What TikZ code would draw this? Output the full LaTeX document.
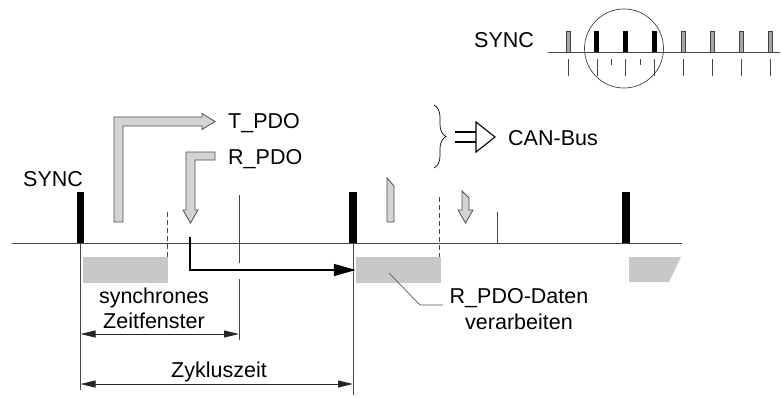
\documentclass[tikz,border=0pt]{standalone}
\usepackage{fontspec}
\setmainfont{Liberation Sans}
\usetikzlibrary{arrows.meta, decorations.pathreplacing}
\definecolor{boxgray}{RGB}{200,200,200}
\definecolor{arrgray}{RGB}{212,212,212}
\definecolor{linegray}{RGB}{70,70,70}

\tikzset{
  lbl/.style={font=\fontsize{21.5}{25}\selectfont, inner sep=0pt},
  procbox/.style={fill=boxgray, minimum width=85pt, minimum height=26pt, inner sep=0pt},
  hollow/.style={fill=arrgray, draw=black!70, line width=0.8pt, line join=miter},
  thinline/.style={draw=linegray, line width=0.8pt},
  dimline/.style={draw=black!85, line width=0.9pt, {Triangle[length=15pt,width=7pt]}-{Triangle[length=15pt,width=7pt]}},
}

\begin{document}
\begin{tikzpicture}[x=1pt, y=-1pt]
\useasboundingbox (0,0) rectangle (781,397);

% === Time axis with SYNC pulses ===
\draw[thinline] (12,243) -- (682,243);
\foreach \x in {80.5,353,626}
  \fill ({\x-3.8},192) rectangle ({\x+3.8},243);
\node[lbl, anchor=base west] (sync) at (23,186) {SYNC};

% markers on the axis
\draw[thinline, dash pattern=on 5pt off 3pt] (167.5,212) -- (167.5,257);
\draw[thinline, dash pattern=on 5pt off 3pt] (439,197) -- (439,257);
\draw[thinline] (239,195) -- (239,263);
\draw[thinline] (239,279) -- (239,340);
\draw[thinline] (497,212) -- (497,243);
\draw[thinline] (80.5,243) -- (80.5,390);
\draw[thinline] (353,243) -- (353,395);

% === Processing boxes ===
\node[procbox] (proc1) at (125.5,270) {};
\node[procbox] (proc2) at (398.5,270) {};
\fill[boxgray] (629,257) -- (681,257) -- (669,282) -- (629,282) -- cycle;

% === PDO arrows ===
\draw[hollow] (114,222) -- (114,117) -- (202,117) -- (202,113.5) -- (215,121.5)
  -- (202,129.5) -- (202,126) -- (123,126) -- (123,222) -- cycle;
\draw[hollow] (215,152) -- (186,152) -- (186,210) -- (183,210) -- (190.5,223)
  -- (198,210) -- (195,210) -- (195,160) -- (215,160) -- cycle;
\node[lbl, anchor=base west] (tpdo) at (228,128.5) {T\_PDO};
\node[lbl, anchor=base west] (rpdo) at (228,164) {R\_PDO};

% next cycle
\draw[hollow] (387,222) -- (387,178) -- (394,186) -- (394,222) -- cycle;
\draw[hollow] (462,191) -- (469,198) -- (469,210) -- (473,210) -- (465.5,223)
  -- (458,210) -- (462,210) -- cycle;

% R_PDO data handed over to next cycle
\coordinate (rstart) at (190,237);
\draw[black, line width=1.4pt, -{Triangle[length=22pt,width=12pt]}] (rstart) |- (proc2.west);

% === CAN bus legend ===
\draw[decorate, decoration={brace, amplitude=12pt}, line width=0.7pt] (434,105) -- (434,168);
\draw[line width=1.1pt] (455,132) -- (476,132);
\draw[line width=1.1pt] (455,142) -- (476,142);
\draw[line width=1.1pt, fill=white, line join=miter] (476,122) -- (495,137) -- (476,152) -- cycle;
\node[lbl, anchor=base west] (canbus) at (508,145) {CAN-Bus};

% === Dimensions ===
\coordinate (winL) at (80.5,334);
\coordinate (winR) at (239,334);
\coordinate (cycL) at (80.5,384);
\coordinate (cycR) at (353,384);
\draw[dimline] (winL) -- (winR);
\draw[dimline] (cycL) -- (cycR);
\node[lbl, anchor=base] (win1) at (154,303) {synchrones};
\node[lbl, anchor=base] (win2) at (154,328) {Zeitfenster};
\node[lbl, anchor=base] (cyc) at (219,377) {Zykluszeit};

% label for processing
\coordinate (lead) at (389,273);
\draw[draw=black!65, line width=0.7pt] (lead) -- (420,305) -- (443,305);
\node[lbl, anchor=base] (rdat1) at (519,303) {R\_PDO-Daten};
\node[lbl, anchor=base] (rdat2) at (519,329) {verarbeiten};

% === Inset: SYNC sequence ===
\node[lbl, anchor=base west] (syncB) at (474,47) {SYNC};
\draw[thinline] (548,52) -- (780,52);
\foreach \i in {0,...,7} {
  \pgfmathsetmacro\bx{568+28.9*\i}
  \draw[draw=linegray, line width=0.7pt] (\bx,59) -- (\bx,76);
}
\foreach \i in {0,4,5,6,7} {
  \pgfmathsetmacro\bx{568+28.9*\i}
  \filldraw[fill=black!35, draw=black!75, line width=0.5pt] ({\bx-2},31) rectangle ({\bx+2},52);
}
\foreach \i in {1,2,3} {
  \pgfmathsetmacro\bx{568+28.9*\i}
  \fill ({\bx-2.5},31) rectangle ({\bx+2.5},52);
}
\draw[draw=linegray, line width=0.7pt] (611.5,59) -- (611.5,65);
\draw[draw=linegray, line width=0.7pt] (640.5,59) -- (640.5,65);
\draw[draw=black!75, line width=0.7pt] (624,48.5) circle[radius=39.5pt];

\end{tikzpicture}
\end{document}
